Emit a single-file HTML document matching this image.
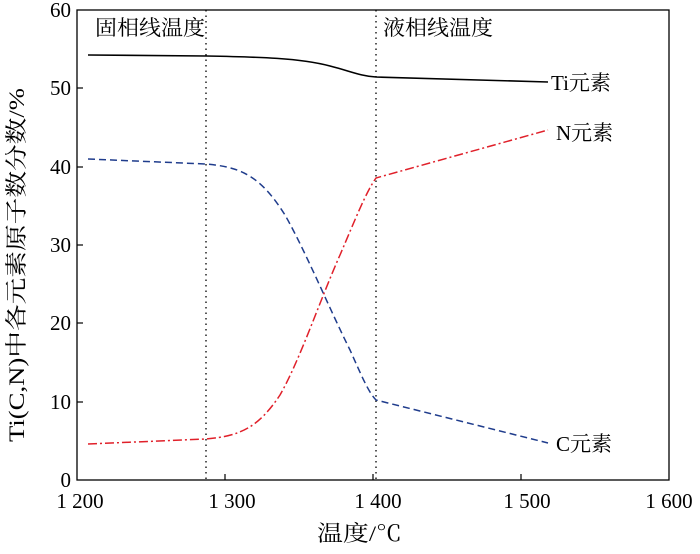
<!DOCTYPE html>
<html><head><meta charset="utf-8"><style>
html,body{margin:0;padding:0;background:#fff;}
text{font-family:"Liberation Serif","Noto Serif CJK SC",serif;font-size:21px;fill:#000;}
</style></head><body>
<svg width="700" height="549" viewBox="0 0 700 549" xmlns="http://www.w3.org/2000/svg">
<rect x="77" y="10" width="592" height="470" fill="none" stroke="#000" stroke-width="1.3"/>
<g stroke="#000" stroke-width="1.2">
<line x1="77" y1="88" x2="83" y2="88"/><line x1="77" y1="167" x2="83" y2="167"/><line x1="77" y1="245" x2="83" y2="245"/><line x1="77" y1="323" x2="83" y2="323"/><line x1="77" y1="402" x2="83" y2="402"/>
<line x1="225" y1="480" x2="225" y2="474"/><line x1="373" y1="480" x2="373" y2="474"/><line x1="521" y1="480" x2="521" y2="474"/>
</g>
<g text-anchor="end" style="font-size:22px">
<text x="71" y="17">60</text><text x="71" y="95">50</text><text x="71" y="174">40</text><text x="71" y="252">30</text><text x="71" y="330">20</text><text x="71" y="409">10</text><text x="71" y="487">0</text>
</g>
<g text-anchor="middle" style="font-size:22px">
<text x="80" y="508">1 200</text><text x="232" y="508">1 300</text><text x="378" y="508">1 400</text><text x="527" y="508">1 500</text><text x="669" y="508">1 600</text>
</g>
<text x="317" y="541" textLength="85" lengthAdjust="spacingAndGlyphs" style="font-size:22px">温度/℃</text>
<text transform="translate(24,442) rotate(-90)" textLength="354" lengthAdjust="spacingAndGlyphs" style="font-size:22px">Ti(C,N)中各元素原子数分数/%</text>
<line x1="206" y1="10" x2="206" y2="480" stroke="#000" stroke-width="1.3" stroke-dasharray="1.5,4"/>
<line x1="376" y1="10" x2="376" y2="480" stroke="#000" stroke-width="1.3" stroke-dasharray="1.5,4"/>
<text x="95" y="35" textLength="110" lengthAdjust="spacingAndGlyphs">固相线温度</text>
<text x="383" y="35" textLength="110" lengthAdjust="spacingAndGlyphs">液相线温度</text>
<path d="M88,55 L206,56 C260,57 300,58 330,66 C350,71 360,76 376,77 L548,82" fill="none" stroke="#000" stroke-width="1.6"/>
<path d="M88,159 L206,164 C240,167 260,175 285,215 C305,250 330,310 350,350 C360,372 368,392 376,400 L548,443" fill="none" stroke="#1f3c8c" stroke-width="1.5" stroke-dasharray="7,4"/>
<path d="M88,444 L206,439 C240,436 258,428 280,395 C300,360 320,300 340,255 C355,220 366,192 376,178 L548,130" fill="none" stroke="#e0202a" stroke-width="1.5" stroke-dasharray="9,3,2,3"/>
<text x="551" y="90">Ti元素</text>
<text x="556" y="140">N元素</text>
<text x="556" y="451">C元素</text>
</svg>
</body></html>
